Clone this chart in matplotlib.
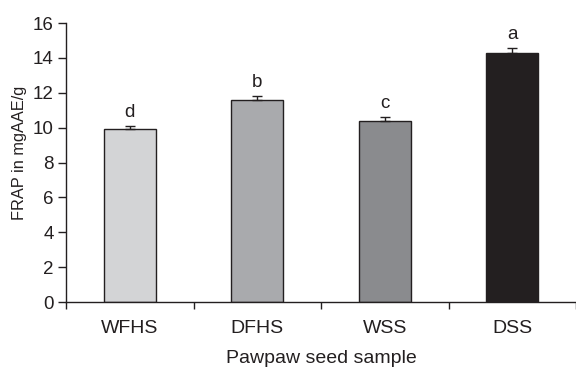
import numpy as np
import matplotlib.pyplot as plt

plt.rcParams['font.family'] = ['Liberation Sans', 'DejaVu Sans']

# dane
samples = ['WFHS', 'DFHS', 'WSS', 'DSS']
frap = [9.9, 11.6, 10.4, 14.3]
frap_err = [0.2, 0.2, 0.2, 0.25]
letters = ['d', 'b', 'c', 'a']
colors = ['#d3d4d6', '#a9aaad', '#8a8b8e', '#231f20']

fig = plt.figure(figsize=(5.76, 3.68), dpi=100)
ax = fig.add_axes([0.1146, 0.179, 0.8854, 0.7585])

x = np.arange(len(samples))
ax.bar(x, frap, width=0.405, color=colors, edgecolor='#231f20', linewidth=1.0, zorder=2)
ax.errorbar(x, frap, yerr=[np.zeros(len(frap)), frap_err], fmt='none',
            ecolor='#231f20', elinewidth=1.0, capsize=3.5, capthick=1.0, zorder=3)

# litery istotności nad słupkami
for xi, v, e, lt in zip(x, frap, frap_err, letters):
    ax.text(xi, v + e + 0.3, lt, ha='center', va='bottom', fontsize=13.5, color='#231f20')

ax.set_xlim(-0.5, 3.39)
ax.set_ylim(0, 16)
ax.set_yticks(range(0, 17, 2))

# kreski między kategoriami, etykiety w środku
ax.set_xticks(np.arange(-0.5, 4, 1))
ax.set_xticklabels([])
ax.set_xticks(x, minor=True)
ax.set_xticklabels(samples, minor=True)
ax.tick_params(axis='x', which='major', direction='out', length=5, width=1, color='#231f20')
ax.tick_params(axis='x', which='minor', length=0, pad=13, labelsize=14, labelcolor='#231f20')
ax.tick_params(axis='y', direction='out', length=6, width=1, pad=3, labelsize=13.5,
               color='#231f20', labelcolor='#231f20')

for s in ['top', 'right']:
    ax.spines[s].set_visible(False)
for s in ['left', 'bottom']:
    ax.spines[s].set_color('#231f20')
    ax.spines[s].set_linewidth(1.0)

ax.set_xlabel('Pawpaw seed sample', fontsize=14, color='#231f20', labelpad=9)
ax.set_ylabel('FRAP in mgAAE/g', fontsize=11.8, color='#231f20')
ax.yaxis.set_label_coords(-0.076, 0.534)

fig.savefig('out.png', dpi=100)
